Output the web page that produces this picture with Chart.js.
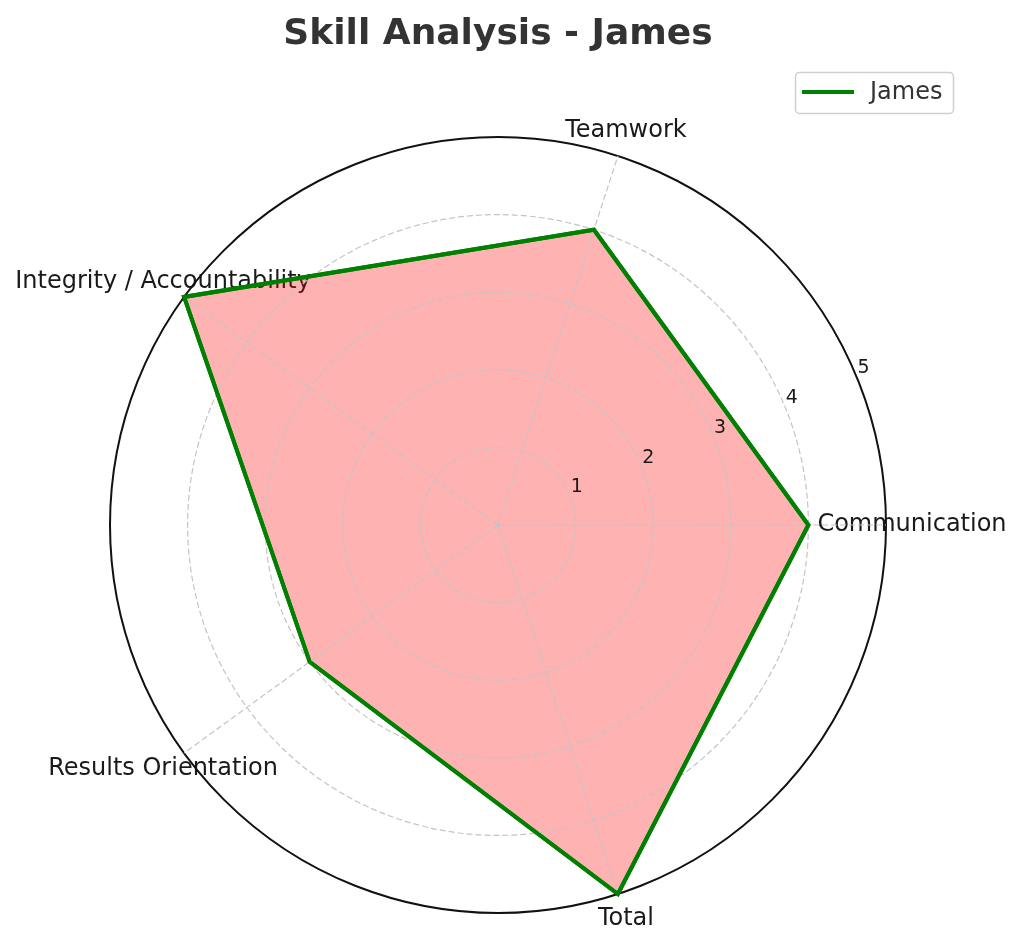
<!DOCTYPE html>
<html>
<head>
<meta charset="utf-8">
<script src="https://cdn.jsdelivr.net/npm/chart.js@4"></script>
<style>
  body { margin: 0; background: #fff; }
  canvas { display: block; }
</style>
</head>
<body>
<canvas id="myChart" width="1024" height="948"></canvas>
<script>
// datos del radar (orden contrario a las agujas, empezando a la derecha)
const categorias = ["Communication", "Teamwork", "Integrity / Accountability", "Results Orientation", "Total"];
const valores = [4, 4, 5, 3, 5];
const ticksRadio = [1, 2, 3, 4, 5];
const nombreSerie = "James";
const titulo = "Skill Analysis - James";

// Chart.js va en sentido horario, asi que se invierte el orden (menos el primero)
const orden = [0, 4, 3, 2, 1];
const etiquetas = orden.map((i) => categorias[i]);
const datos = orden.map((i) => valores[i]);

const FUENTE = "'DejaVu Sans', sans-serif";

//! etiquetas de las categorias y de los ticks
const textosRadar = {
    id: "textosRadar",
    beforeDatasetsDraw(chart) {
        const ctx = chart.ctx;
        const r = chart.scales.r;
        ctx.save();
        ctx.fillStyle = "#1a1a1a";
        ctx.font = "24px " + FUENTE;
        ctx.textAlign = "center";
        ctx.textBaseline = "middle";
        const fuera = r.getDistanceFromCenterForValue(r.max) + 26;
        etiquetas.forEach((et, i) => {
            const p = r.getPointPosition(i, fuera);
            ctx.fillText(et, p.x, p.y);
        });
        ctx.restore();
    },
    afterDraw(chart) {
        const ctx = chart.ctx;
        const r = chart.scales.r;
        // la linea verde va encima de la rejilla (el relleno queda debajo)
        chart.getDatasetMeta(0).dataset.draw(ctx, chart.chartArea);
        ctx.save();
        // ticks del radio a 22.5 grados
        ctx.fillStyle = "#1a1a1a";
        ctx.font = "19px " + FUENTE;
        ctx.textAlign = "center";
        ctx.textBaseline = "middle";
        const ang = 22.5 * Math.PI / 180;
        ticksRadio.forEach((v) => {
            const d = r.getDistanceFromCenterForValue(v);
            ctx.fillText(String(v), r.xCenter + d * Math.cos(ang) + 7, r.yCenter - d * Math.sin(ang) - 8);
        });
        // leyenda con caja, como la original
        ctx.beginPath();
        ctx.roundRect(795.5, 72.5, 158, 41, 4);
        ctx.fillStyle = "rgba(255,255,255,0.8)";
        ctx.fill();
        ctx.strokeStyle = "#d0d0d0";
        ctx.lineWidth = 1.5;
        ctx.stroke();
        ctx.beginPath();
        ctx.moveTo(802, 92);
        ctx.lineTo(854, 92);
        ctx.strokeStyle = "#008000";
        ctx.lineWidth = 4;
        ctx.stroke();
        ctx.fillStyle = "#333";
        ctx.font = "24px " + FUENTE;
        ctx.textAlign = "left";
        ctx.textBaseline = "middle";
        ctx.fillText(nombreSerie, 870, 93);
        ctx.restore();
    }
};

const chartDOM = document.getElementById("myChart");
const myChart = new Chart(chartDOM, {
    type: "radar",
    data: {
        labels: etiquetas,
        datasets: [{
            label: nombreSerie,
            data: datos,
            borderColor: "#008000",
            borderWidth: 4,
            backgroundColor: "rgba(255,0,0,0.3)",
            fill: true,
            pointRadius: 0,
            pointHoverRadius: 0,
            tension: 0
        }]
    },
    options: {
        responsive: false,
        devicePixelRatio: 1,
        animation: false,
        layout: { padding: { left: 110, right: 138, top: 0, bottom: 35 } },
        plugins: {
            legend: { display: false },
            tooltip: { enabled: false },
            title: {
                display: true,
                text: titulo,
                color: "#333",
                font: { family: FUENTE, size: 36, weight: "bold", lineHeight: 1.2 },
                padding: { top: 13, bottom: 80.8 }
            }
        },
        scales: {
            r: {
                min: 0,
                max: 5,
                startAngle: 90,
                ticks: { display: false, stepSize: 1 },
                pointLabels: { display: false },
                grid: {
                    z: 1,
                    circular: true,
                    color: (c) => c.index === 5 ? "#111" : "#c4c4c4",
                    lineWidth: (c) => c.index === 5 ? 2 : 1.2
                },
                border: { dash: (c) => c.index === 5 ? [] : [6, 3] },
                angleLines: { color: "#c4c4c4", lineWidth: 1.2, borderDash: [6, 3] }
            }
        }
    },
    plugins: [textosRadar]
});
</script>
</body>
</html>
